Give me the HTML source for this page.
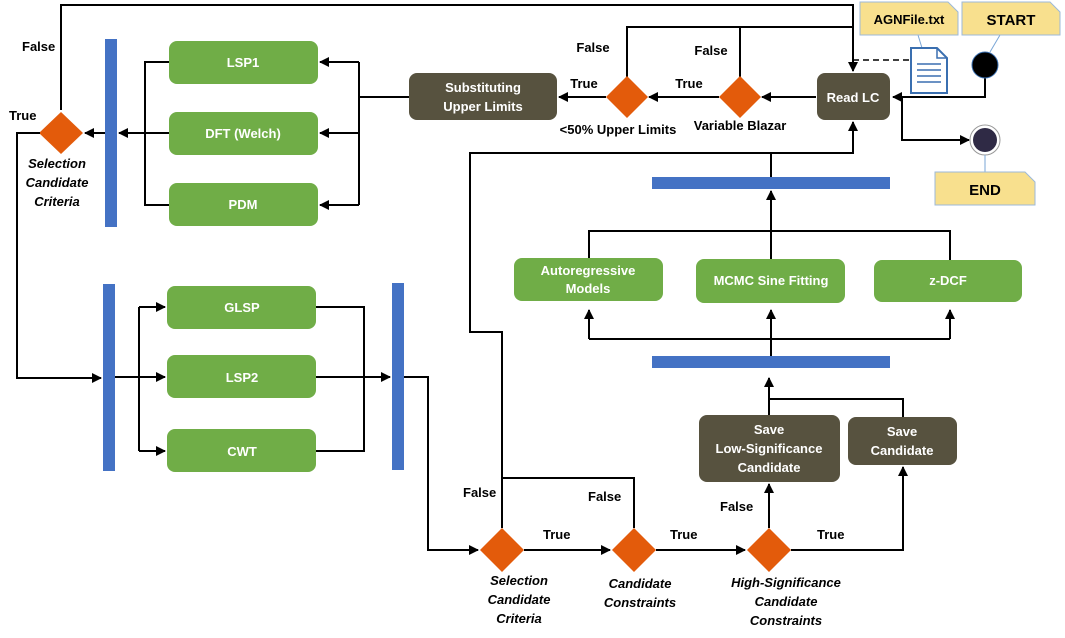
<!DOCTYPE html>
<html><head><meta charset="utf-8"><style>
html,body{margin:0;padding:0;background:#fff;}
svg{display:block;}
text{font-family:"Liberation Sans",sans-serif;font-weight:bold;font-size:13px;}
.w{fill:#fff;text-anchor:middle;}
.k{fill:#000;}
.i{font-style:italic;text-anchor:middle;fill:#000;}
.l{stroke:#000;stroke-width:2;fill:none;}
</style></head><body>
<svg width="1065" height="638" viewBox="0 0 1065 638" xmlns="http://www.w3.org/2000/svg">
<defs><marker id="a" markerWidth="10" markerHeight="10" refX="9" refY="5" orient="auto" markerUnits="userSpaceOnUse"><path d="M0,0 L10,5 L0,10 z" fill="#000"/></marker></defs>

<!-- top loops -->
<path class="l" d="M61,110 V5 H853 V71" marker-end="url(#a)"/>
<path class="l" d="M627,77 V27 H853"/>
<path class="l" d="M740,77 V27"/>
<path d="M853,60 H910" stroke="#000" stroke-width="1.5" stroke-dasharray="6,4"/>

<!-- Read LC -->
<rect x="817" y="73" width="73" height="47" rx="8" fill="#57523f"/>
<text class="w" x="853" y="102">Read LC</text>

<!-- start -->
<path class="l" d="M985,77 V97 H893" marker-end="url(#a)"/>
<circle cx="985" cy="65" r="13" fill="#000" stroke="#3a6fb0" stroke-width="1"/>
<path class="l" d="M902,97 V140 H969" marker-end="url(#a)"/>
<circle cx="985" cy="140" r="15" fill="#fff" stroke="#999" stroke-width="1"/>
<circle cx="985" cy="140" r="12" fill="#2f2a45"/>

<!-- notes -->
<line x1="918" y1="35" x2="922" y2="48" stroke="#7aa6d6"/>
<line x1="1000" y1="35" x2="990" y2="52" stroke="#7aa6d6"/>
<line x1="985" y1="155" x2="985" y2="172" stroke="#7aa6d6"/>
<path d="M860,2 H948 L958,12 V35 H860 Z" fill="#f8e08e" stroke="#9cb9d9"/>
<text class="k" x="909" y="24" text-anchor="middle">AGNFile.txt</text>
<path d="M962,2 H1050 L1060,12 V35 H962 Z" fill="#f8e08e" stroke="#9cb9d9"/>
<text class="k" x="1011" y="25" text-anchor="middle" style="font-size:15px">START</text>
<path d="M935,172 H1025 L1035,182 V205 H935 Z" fill="#f8e08e" stroke="#9cb9d9"/>
<text class="k" x="985" y="195" text-anchor="middle" style="font-size:15px">END</text>

<!-- doc icon -->
<path d="M911,48 H937 L947,58 V93 H911 Z" fill="#fff" stroke="#3a6fb0" stroke-width="2"/>
<path d="M937,48 V58 H947" fill="none" stroke="#3a6fb0" stroke-width="1.5"/>
<g stroke="#3a6fb0" stroke-width="1.5"><line x1="917" y1="64" x2="941" y2="64"/><line x1="917" y1="70" x2="941" y2="70"/><line x1="917" y1="76" x2="941" y2="76"/><line x1="917" y1="82" x2="941" y2="82"/></g>

<!-- first row -->
<path class="l" d="M816,97 H762" marker-end="url(#a)"/>
<polygon points="740,76 761,97 740,118 719,97" fill="#e35b0b"/>
<path class="l" d="M719,97 H649" marker-end="url(#a)"/>
<polygon points="627,76 648,97 627,118 606,97" fill="#e35b0b"/>
<path class="l" d="M606,97 H559" marker-end="url(#a)"/>
<text class="k" x="689" y="88" text-anchor="middle">True</text>
<text class="k" x="584" y="88" text-anchor="middle">True</text>
<text class="k" x="593" y="52" text-anchor="middle">False</text>
<text class="k" x="711" y="55" text-anchor="middle">False</text>
<text class="k" x="740" y="130" text-anchor="middle">Variable Blazar</text>
<text class="k" x="618" y="134" text-anchor="middle">&lt;50% Upper Limits</text>
<rect x="409" y="73" width="148" height="47" rx="8" fill="#57523f"/>
<text class="w" x="483" y="92">Substituting</text>
<text class="w" x="483" y="111">Upper Limits</text>

<!-- LSP1 group -->
<path class="l" d="M409,97 H359"/>
<path class="l" d="M359,62 V205"/>
<path class="l" d="M359,62 H320" marker-end="url(#a)"/>
<path class="l" d="M359,133 H320" marker-end="url(#a)"/>
<path class="l" d="M359,205 H320" marker-end="url(#a)"/>
<rect x="169" y="41" width="149" height="43" rx="8" fill="#70ad47"/>
<text class="w" x="243" y="67">LSP1</text>
<rect x="169" y="112" width="149" height="43" rx="8" fill="#70ad47"/>
<text class="w" x="243" y="138">DFT (Welch)</text>
<rect x="169" y="183" width="149" height="43" rx="8" fill="#70ad47"/>
<text class="w" x="243" y="209">PDM</text>
<path class="l" d="M169,62 H145 V205 H169"/>
<path class="l" d="M169,133 H119" marker-end="url(#a)"/>
<rect x="105" y="39" width="12" height="188" fill="#4472c4"/>
<path class="l" d="M105,133 H85" marker-end="url(#a)"/>
<polygon points="61,112 83,133 61,154 39,133" fill="#e35b0b"/>
<text class="k" x="22" y="51">False</text>
<text class="k" x="9" y="120">True</text>
<text class="i" x="57" y="168">Selection</text>
<text class="i" x="57" y="187">Candidate</text>
<text class="i" x="57" y="206">Criteria</text>

<!-- second group -->
<path class="l" d="M40,133 H17 V378 H101" marker-end="url(#a)"/>
<rect x="103" y="284" width="12" height="187" fill="#4472c4"/>
<path class="l" d="M115,377 H165" marker-end="url(#a)"/>
<path class="l" d="M139,307 V451"/>
<path class="l" d="M139,307 H165" marker-end="url(#a)"/>
<path class="l" d="M139,451 H165" marker-end="url(#a)"/>
<rect x="167" y="286" width="149" height="43" rx="8" fill="#70ad47"/>
<text class="w" x="242" y="312">GLSP</text>
<rect x="167" y="355" width="149" height="43" rx="8" fill="#70ad47"/>
<text class="w" x="242" y="382">LSP2</text>
<rect x="167" y="429" width="149" height="43" rx="8" fill="#70ad47"/>
<text class="w" x="242" y="456">CWT</text>
<path class="l" d="M316,307 H364 V451 H316"/>
<path class="l" d="M316,377 H390" marker-end="url(#a)"/>
<rect x="392" y="283" width="12" height="187" fill="#4472c4"/>
<path class="l" d="M404,377 H428 V550 H478" marker-end="url(#a)"/>

<!-- bottom row -->
<path class="l" d="M502,528 V478 V332 H470 V153 H853 V122" marker-end="url(#a)"/>
<path class="l" d="M502,478 H634 V528"/>
<polygon points="502,528 524,550 502,572 480,550" fill="#e35b0b"/>
<path class="l" d="M524,550 H610" marker-end="url(#a)"/>
<polygon points="634,528 656,550 634,572 612,550" fill="#e35b0b"/>
<path class="l" d="M656,550 H745" marker-end="url(#a)"/>
<polygon points="769,528 791,550 769,572 747,550" fill="#e35b0b"/>
<path class="l" d="M791,550 H903 V467" marker-end="url(#a)"/>
<path class="l" d="M769,528 V484" marker-end="url(#a)"/>
<text class="k" x="463" y="497">False</text>
<text class="k" x="588" y="501">False</text>
<text class="k" x="720" y="511">False</text>
<text class="k" x="543" y="539">True</text>
<text class="k" x="670" y="539">True</text>
<text class="k" x="817" y="539">True</text>
<text class="i" x="519" y="585">Selection</text>
<text class="i" x="519" y="604">Candidate</text>
<text class="i" x="519" y="623">Criteria</text>
<text class="i" x="640" y="588">Candidate</text>
<text class="i" x="640" y="607">Constraints</text>
<text class="i" x="786" y="587">High-Significance</text>
<text class="i" x="786" y="606">Candidate</text>
<text class="i" x="786" y="625">Constraints</text>

<rect x="699" y="415" width="141" height="67" rx="8" fill="#57523f"/>
<text class="w" x="769" y="434">Save</text>
<text class="w" x="769" y="453">Low-Significance</text>
<text class="w" x="769" y="472">Candidate</text>
<rect x="848" y="417" width="109" height="48" rx="8" fill="#57523f"/>
<text class="w" x="902" y="436">Save</text>
<text class="w" x="902" y="455">Candidate</text>
<path class="l" d="M769,415 V399 H903 V417"/>
<path class="l" d="M769,399 V378" marker-end="url(#a)"/>

<!-- analysis -->
<rect x="652" y="356" width="238" height="12" fill="#4472c4"/>
<path class="l" d="M771,356 V339"/>
<path class="l" d="M589,339 H950"/>
<path class="l" d="M589,339 V310" marker-end="url(#a)"/>
<path class="l" d="M771,339 V310" marker-end="url(#a)"/>
<path class="l" d="M950,339 V310" marker-end="url(#a)"/>
<rect x="514" y="258" width="149" height="43" rx="8" fill="#70ad47"/>
<text class="w" x="588" y="275">Autoregressive</text>
<text class="w" x="588" y="293">Models</text>
<rect x="696" y="259" width="149" height="44" rx="8" fill="#70ad47"/>
<text class="w" x="771" y="285">MCMC Sine Fitting</text>
<rect x="874" y="260" width="148" height="42" rx="8" fill="#70ad47"/>
<text class="w" x="948" y="285">z-DCF</text>
<path class="l" d="M589,258 V231 H950 V260"/>
<path class="l" d="M771,259 V191" marker-end="url(#a)"/>
<rect x="652" y="177" width="238" height="12" fill="#4472c4"/>
<path class="l" d="M771,177 V153"/>
</svg>
</body></html>
